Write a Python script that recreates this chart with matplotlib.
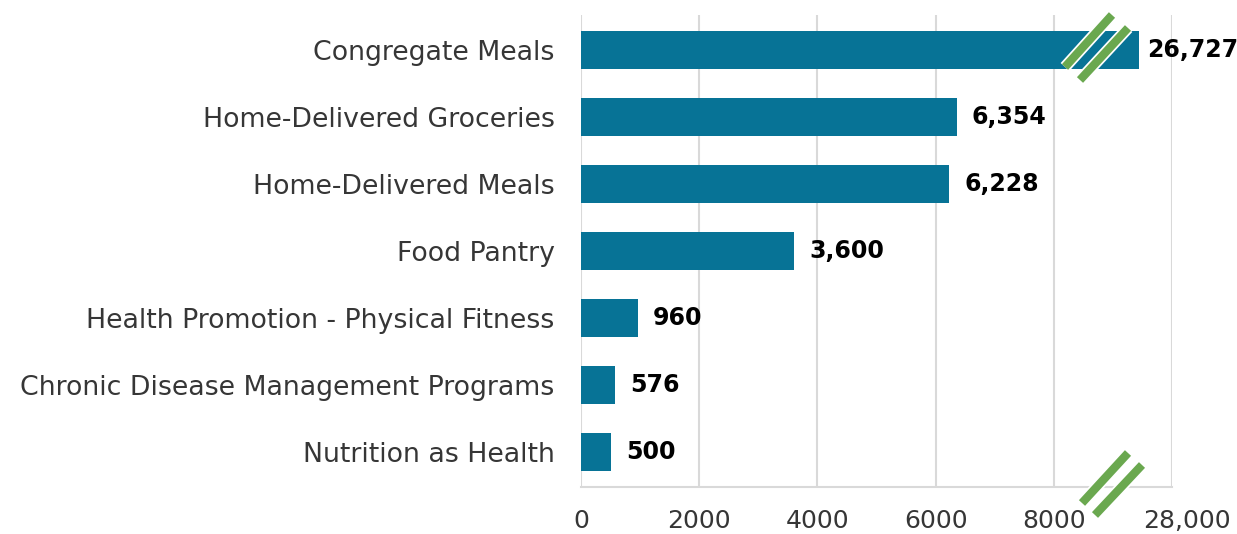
import numpy as np
import matplotlib.pyplot as plt
import matplotlib.patheffects as pe
from matplotlib.lines import Line2D
from matplotlib.transforms import ScaledTranslation

categories = ["Congregate Meals", "Home-Delivered Groceries", "Home-Delivered Meals",
              "Food Pantry", "Health Promotion - Physical Fitness",
              "Chronic Disease Management Programs", "Nutrition as Health"]
values = [26727, 6354, 6228, 3600, 960, 576, 500]
tick_values = [0, 2000, 4000, 6000, 8000, 28000]
tick_labels = ["0", "2000", "4000", "6000", "8000", "28,000"]

# broken axis: everything past 8000 is squeezed into the last grid cell
data_pts = [0, 8000, 27000, 28000]
axis_pts = [0, 8000, 9460, 10000]


def fwd(x):
    return np.interp(x, data_pts, axis_pts)


def inv(x):
    return np.interp(x, axis_pts, data_pts)


bar_color = "#077396"
green = "#6aa84f"
text_color = "#363636"

fig = plt.figure(figsize=(12.37, 5.34), dpi=100)
ax = fig.add_axes([0.4697, 0.088, 0.4778, 0.884])
ax.set_xscale("function", functions=(fwd, inv))

y = np.arange(len(categories))
ax.barh(y, values, height=0.57, color=bar_color, zorder=2)
ax.set_xlim(0, 28000)
ax.set_ylim(6.52, -0.52)

ax.set_yticks(y)
ax.set_yticklabels(categories, fontsize=19.3, color=text_color)
ax.set_xticks(tick_values)
ax.set_xticklabels(tick_labels, fontsize=18, color=text_color)
ax.minorticks_off()
ax.tick_params(axis="x", length=0, pad=16)
ax.tick_params(axis="y", length=0, pad=19)
ax.grid(axis="x", color="#d9d9d9", lw=1.5, zorder=0)
for s in ["top", "right", "left"]:
    ax.spines[s].set_visible(False)
ax.spines["bottom"].set_color("#d9d9d9")
ax.spines["bottom"].set_linewidth(1.5)

# the 28,000 label sits a little right of its gridline
last = ax.get_xticklabels()[-1]
last.set_transform(last.get_transform() + ScaledTranslation(0.15, 0, fig.dpi_scale_trans))

for yi, v in zip(y, values):
    off = 6 if v > 8000 else 11
    ax.annotate(f"{v:,}", (v, yi), xytext=(off, 0), textcoords="offset points",
                va="center", ha="left", fontsize=17, fontweight="bold", color="black")

# break marks (figure pixel coordinates)
W, H = 1237, 534
marks = [((1065, 67), (1112, 15)), ((1080, 80), (1128, 28)),
         ((1082, 503), (1128, 453)), ((1095, 515), (1142, 465))]
for (x0, y0), (x1, y1) in marks:
    ln = Line2D([x0 / W, x1 / W], [1 - y0 / H, 1 - y1 / H], transform=fig.transFigure,
                color=green, lw=6, solid_capstyle="butt", zorder=5,
                path_effects=[pe.Stroke(linewidth=8.5, foreground="white"), pe.Normal()])
    fig.add_artist(ln)

fig.savefig("out.png", dpi=100)
